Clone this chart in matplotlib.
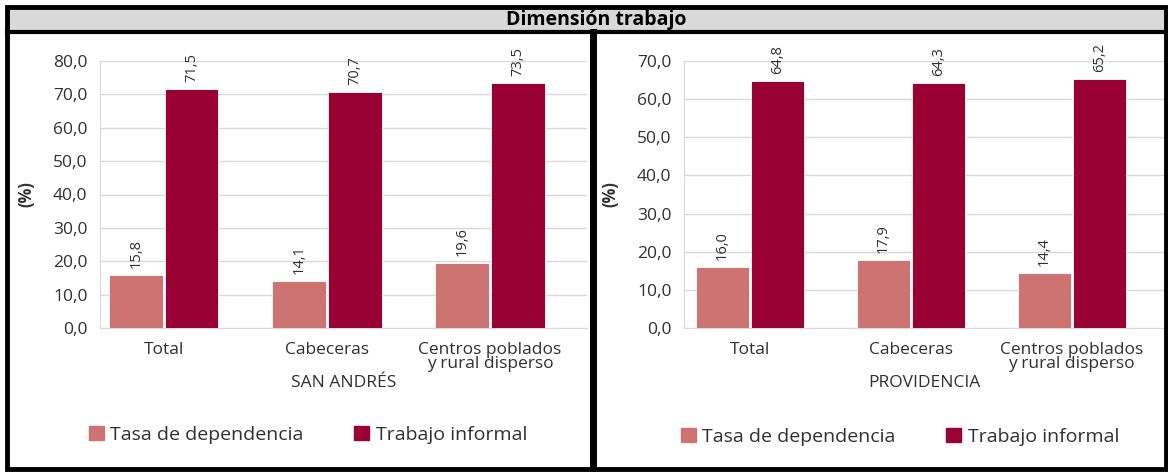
import matplotlib.pyplot as plt
from matplotlib.patches import Rectangle, Patch
import numpy as np

plt.rcParams['font.family'] = ['Open Sans', 'DejaVu Sans']

categories = ['Total', 'Cabeceras', 'Centros poblados\ny rural disperso']
series_names = ['Tasa de dependencia', 'Trabajo informal']
san_andres_tasa = [15.8, 14.1, 19.6]
san_andres_informal = [71.5, 70.7, 73.5]
providencia_tasa = [16.0, 17.9, 14.4]
providencia_informal = [64.8, 64.3, 65.2]

COL_TASA = '#cd7371'
COL_INF = '#990033'
TXT = '#303030'
W, H = 1168, 472


def fx(px):
    return px / W


def fy(py):
    return 1 - py / H


def fmt(v):
    return f'{v:.1f}'.replace('.', ',')


def panel(ax, tasa, informal, ymax, group, xlim):
    x = np.arange(len(categories))
    bw = 0.33
    b1 = ax.bar(x - bw / 2 - 0.006, tasa, bw, color=COL_TASA, edgecolor='white', linewidth=0.6, zorder=3)
    b2 = ax.bar(x + bw / 2 + 0.006, informal, bw, color=COL_INF, edgecolor='white', linewidth=0.6, zorder=3)
    for bars, vals in ((b1, tasa), (b2, informal)):
        for b, v in zip(bars, vals):
            ax.annotate(fmt(v), (b.get_x() + b.get_width() / 2, v), xytext=(0, 5),
                        textcoords='offset points', rotation=90, ha='center', va='bottom',
                        fontsize=10.5, color=TXT)
    ax.set_ylim(0, ymax)
    ax.set_xlim(*xlim)
    ticks = np.arange(0, ymax + 1, 10)
    ax.set_yticks(ticks)
    ax.set_yticklabels([fmt(t) for t in ticks], fontsize=12.5, color=TXT)
    ax.yaxis.grid(True, color='#d9d9d9', linewidth=1, zorder=0)
    ax.set_axisbelow(True)
    for s in ('top', 'right'):
        ax.spines[s].set_visible(False)
    ax.spines['left'].set_color('#d9d9d9')
    ax.spines['bottom'].set_color('#d9d9d9')
    ax.tick_params(axis='y', length=0, pad=9)
    ax.tick_params(axis='x', length=0, pad=10)
    ax.set_xticks(x)
    ax.set_xticklabels(categories, fontsize=12.5, color=TXT, linespacing=0.88)
    ax.set_xlabel(group, fontsize=12.5, color=TXT, labelpad=2)
    ax.set_ylabel('(%)', fontsize=12, fontweight='bold', color=TXT, labelpad=13)


fig = plt.figure(figsize=(W / 100, H / 100), dpi=100)

ax1 = fig.add_axes([fx(100), fy(328), fx(587) - fx(100), fy(61) - fy(328)])
panel(ax1, san_andres_tasa, san_andres_informal, 80, 'SAN ANDRÉS', (-0.39, 2.595))
ax2 = fig.add_axes([fx(684), fy(328), fx(1165) - fx(684), fy(61) - fy(328)])
panel(ax2, providencia_tasa, providencia_informal, 70, 'PROVIDENCIA', (-0.41, 2.58))

handles = [Patch(color=COL_TASA), Patch(color=COL_INF)]
fig.legend(handles, series_names, loc='center', bbox_to_anchor=(fx(308), fy(435)), ncol=2,
           frameon=False, fontsize=14, handlelength=0.75, handleheight=0.75, handletextpad=0.35,
           columnspacing=2.6, labelcolor=TXT)
fig.legend(handles, series_names, loc='center', bbox_to_anchor=(fx(900), fy(437)), ncol=2,
           frameon=False, fontsize=14, handlelength=0.75, handleheight=0.75, handletextpad=0.35,
           columnspacing=2.6, labelcolor=TXT)

# frame and title band
fig.add_artist(Rectangle((fx(7), fy(32)), fx(1166) - fx(7), fy(9) - fy(32), transform=fig.transFigure,
                         facecolor='#d9d9d9', edgecolor='none', zorder=0))
fig.add_artist(Rectangle((fx(7), fy(469)), fx(1166) - fx(7), fy(7) - fy(469), transform=fig.transFigure,
                         facecolor='none', edgecolor='black', linewidth=3.5))
fig.add_artist(plt.Line2D([fx(7), fx(1166)], [fy(32), fy(32)], transform=fig.transFigure,
                          color='black', linewidth=3))
fig.add_artist(plt.Line2D([fx(593), fx(593)], [fy(32), fy(469)], transform=fig.transFigure,
                          color='black', linewidth=5))
fig.text(fx(596), fy(20), 'Dimensión trabajo', ha='center', va='center', fontsize=14, fontweight='bold')

fig.savefig('out.png', dpi=100)
